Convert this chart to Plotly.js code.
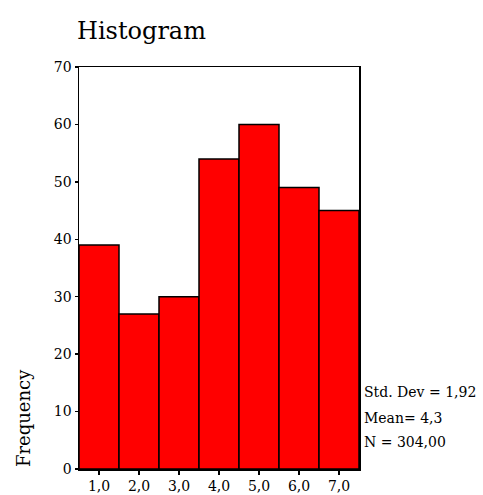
<!DOCTYPE html>
<html>
<head>
<meta charset="utf-8">
<script src="https://cdn.plot.ly/plotly-3.0.1.min.js"></script>
<style>html,body{margin:0;padding:0;background:#fff;}#chart{width:483px;height:495px;}</style>
</head>
<body>
<div id="chart"></div>
<script>
const binCenters = [1, 2, 3, 4, 5, 6, 7];
const frequencies = [39, 27, 30, 54, 60, 49, 45];
const xTickLabels = ["1,0", "2,0", "3,0", "4,0", "5,0", "6,0", "7,0"];
const yTickValues = [0, 10, 20, 30, 40, 50, 60, 70];
const statLines = ["Std. Dev = 1,92", "Mean= 4,3", "N = 304,00"];

const serif = "DejaVu Serif, Liberation Serif, serif";

const trace = {
  type: "bar",
  x: binCenters,
  y: frequencies,
  width: 1,
  marker: {color: "#ff0000", line: {color: "#000000", width: 1.5}},
  hoverinfo: "none"
};

const annotations = statLines.map((t, i) => ({
  text: t, xref: "paper", yref: "paper", x: 1.01, y: [0.1915, 0.127, 0.067][i],
  xanchor: "left", yanchor: "middle", showarrow: false,
  font: {family: serif, size: 14, color: "#000"}
}));
annotations.push({
  text: "Frequency", xref: "paper", yref: "paper", x: -0.2, y: 0.0,
  xanchor: "center", yanchor: "bottom", textangle: -90, showarrow: false,
  font: {family: serif, size: 18, color: "#000"}
});

const layout = {
  width: 483, height: 495,
  margin: {l: 79, r: 124, t: 67, b: 26},
  paper_bgcolor: "#fff", plot_bgcolor: "#fff",
  showlegend: false,
  bargap: 0,
  title: {text: "Histogram", x: 77/483, xanchor: "left", y: 1 - 31/495, yanchor: "middle",
          font: {family: serif, size: 24, color: "#000"}},
  xaxis: {
    range: [0.5, 7.5], tickvals: binCenters, ticktext: xTickLabels,
    ticks: "outside", ticklen: 4, tickwidth: 1.5, tickcolor: "#000",
    showline: true, linecolor: "#000", linewidth: 1.5, mirror: true,
    showgrid: false, zeroline: false,
    tickfont: {family: serif, size: 14, color: "#000"}
  },
  yaxis: {
    range: [0, 70], tickvals: yTickValues,
    ticks: "outside", ticklen: 3, tickwidth: 1.5, tickcolor: "#000",
    showline: true, linecolor: "#000", linewidth: 1.5, mirror: true,
    showgrid: false, zeroline: false,
    tickfont: {family: serif, size: 14, color: "#000"}
  },
  annotations: annotations
};

Plotly.newPlot("chart", [trace], layout, {displayModeBar: false, staticPlot: true});
</script>
</body>
</html>
